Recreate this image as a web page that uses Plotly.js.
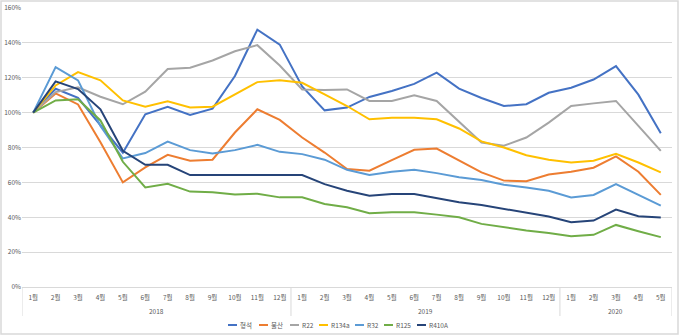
<!DOCTYPE html>
<html>
<head>
<meta charset="utf-8">
<script src="https://cdn.plot.ly/plotly-3.0.1.min.js"></script>
<style>
html,body{margin:0;padding:0;background:#fff;}
#chart{width:680px;height:336px;}
</style>
</head>
<body>
<div id="chart"></div>
<script>
const months = ["1월","2월","3월","4월","5월","6월","7월","8월","9월","10월","11월","12월",
                "1월","2월","3월","4월","5월","6월","7월","8월","9월","10월","11월","12월",
                "1월","2월","3월","4월","5월"];
const years = ["2018","2019","2020"];
const yearSpans = [[0,11],[12,23],[24,28]];

const seriesNames = ["형석","불산","R22","R134a","R32","R125","R410A"];
const seriesColors = ["#4472C4","#ED7D31","#A5A5A5","#FFC000","#5B9BD5","#70AD47","#264478"];

const fluorite = [100,113.7,108.5,93,77,99,103.4,98.7,102.3,121,147.6,139,115,101.3,102.9,109,112.4,116.5,122.9,113.8,108.4,103.8,104.8,111.4,114.3,119,126.7,110.3,88.2];
const hf       = [100,111,104.7,83,60,68.6,75.8,72.4,73,88.6,101.9,95.8,85.7,77.1,67.6,66.7,72.8,78.7,79.4,72.4,65.7,61,60.6,64.5,66.1,68.4,74.9,66.1,52.8];
const r22      = [100,111.8,114.5,109.1,104.8,112,125,125.7,129.9,135.2,138.7,127,113.3,113,113.3,106.7,106.7,109.9,106.7,95,82.9,81,85.7,94.3,103.8,105.3,106.7,92.4,78.1];
const r134a    = [100,115.6,123.2,118.5,107,103.4,106.5,102.9,103.4,110.5,117.5,118.5,117.1,110.5,103.8,96.2,97.1,97.1,96.2,90.9,83.5,80,75.6,73,71.4,72.4,76.4,71.4,65.7];
const r32      = [100,126.1,118.5,92.4,73.7,76.8,83.4,78.5,76.6,78.5,81.5,77.5,76.2,73,67.2,64.2,66.1,67.2,65.3,62.9,61.3,58.7,57.1,55.2,51.4,52.8,59,52.8,46.7];
const r125     = [100,107,107.6,95.5,71.8,57.1,59.2,54.7,54.3,53,53.5,51.4,51.4,47.6,45.7,42.3,42.9,42.9,41.5,40,36.2,34.3,32.4,31,29.1,29.9,35.6,32,28.6];
const r410a    = [100,117.9,113.5,101.9,78.1,70.1,70.1,64.2,64.2,64.2,64.2,64.2,64.2,59,55.2,52.4,53.3,53.3,51,48.6,47,44.8,42.3,40.4,37.1,38.1,44.4,40.6,39.8];

const allSeries = [fluorite,hf,r22,r134a,r32,r125,r410a];
const idx = months.map((m,i)=>i);

const FONT = "'Noto Sans CJK KR','Noto Sans',sans-serif";

const traces = allSeries.map((vals,k)=>({
  type:'scatter', mode:'lines', x:idx, y:vals.map(v=>v/100),
  name:seriesNames[k], line:{color:seriesColors[k], width:2}
}));

// pixel -> paper helpers (plot area: x 22..672, y 8..287)
const PL=22, PW=650, PB=287, PH=279;
const px = v => (v-PL)/PW;
const py = v => (PB-v)/PH;

const shapes = [];
const seps = [-0.5, 11.5, 23.5, 28.5];
seps.forEach(s=>{
  shapes.push({type:'line', xref:'x', yref:'paper', x0:s, x1:s, y0:0, y1:py(316),
    line:{color:'#D9D9D9', width:1}});
});
shapes.push({type:'rect', xref:'paper', yref:'paper', x0:px(1), x1:px(678), y0:py(1), y1:py(334),
  line:{color:'#D9D9D9', width:1.5}});

const annotations = years.map((yr,i)=>({
  text:yr, xref:'x', yref:'paper', x:(yearSpans[i][0]+yearSpans[i][1])/2, y:py(311),
  showarrow:false, font:{family:FONT, size:6.5, color:'#595959'}, yanchor:'middle'
}));

// custom legend
const legendX = [228, 259, 290, 319, 355, 384, 417];
const legY = 325;
seriesNames.forEach((n,k)=>{
  shapes.push({type:'line', xref:'paper', yref:'paper', x0:px(legendX[k]), x1:px(legendX[k]+9),
    y0:py(legY), y1:py(legY), line:{color:seriesColors[k], width:2}});
  annotations.push({text:n, xref:'paper', yref:'paper', x:px(legendX[k]+10), y:py(legY),
    xanchor:'left', yanchor:'middle', showarrow:false,
    font:{family:FONT, size:6.5, color:'#595959'}});
});

const layout = {
  width:680, height:336,
  margin:{l:22, r:8, t:8, b:49},
  paper_bgcolor:'#fff', plot_bgcolor:'#fff',
  showlegend:false,
  xaxis:{type:'linear', range:[-0.5,28.5], tickmode:'array', tickvals:idx, ticktext:months,
    showgrid:false, zeroline:false, showline:true, linecolor:'#D9D9D9', linewidth:1,
    ticks:'', tickfont:{family:FONT, size:6.5, color:'#595959'}, ticklabelstandoff:4},
  yaxis:{range:[0,1.6], dtick:0.2, tickformat:'.0%', showgrid:true, gridcolor:'#D9D9D9',
    gridwidth:1, zeroline:false, showline:false, ticks:'',
    tickfont:{family:FONT, size:6.5, color:'#595959'}},
  shapes:shapes, annotations:annotations
};

Plotly.newPlot('chart', traces, layout, {staticPlot:true, displayModeBar:false});
</script>
</body>
</html>
